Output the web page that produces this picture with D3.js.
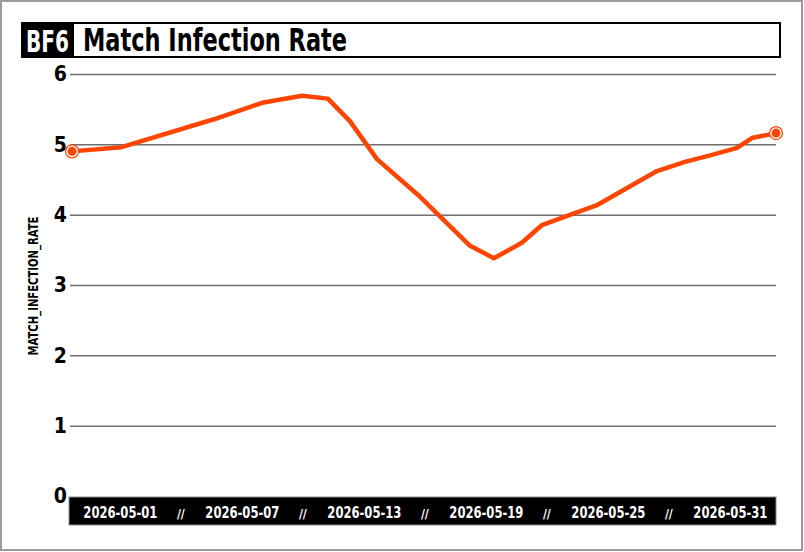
<!DOCTYPE html>
<html lang="en">
  <head>
    <meta charset="utf-8">
    <title>BF6 Match Infection Rate</title>
    <style>
     html, body { margin: 0; padding: 0; background: #fff; }
     svg { display: block; }
     text { font-family: "Liberation Sans Narrow", "DejaVu Sans Condensed", "Roboto Condensed", sans-serif; font-weight: bold; }
    </style>
  </head>
  <body>
    <div id="chart"></div>
  </body>
  <script src="https://d3js.org/d3.v7.min.js"></script>
  <script>
   // values
   var dates = ["2026-04-28T15:30", "2026-05-01T02:00", "2026-05-05T16:00", "2026-05-08T00:00",
                "2026-05-09T23:00", "2026-05-11T05:30", "2026-05-12T07:30", "2026-05-13T15:30",
                "2026-05-15T16:00", "2026-05-18T05:00", "2026-05-19T09:30", "2026-05-20T18:30",
                "2026-05-21T18:00", "2026-05-24T12:00", "2026-05-27T10:00", "2026-05-28T19:00",
                "2026-05-30T03:00", "2026-05-31T08:30", "2026-06-01T02:00", "2026-06-02T06:30"];
   var rates = [4.90, 4.96, 5.36, 5.59, 5.69, 5.65, 5.33, 4.79, 4.28, 3.56,
                3.38, 3.60, 3.85, 4.14, 4.62, 4.75, 4.85, 4.95, 5.09, 5.16];
   var tick_dates = ["2026-05-01", "2026-05-07", "2026-05-13", "2026-05-19", "2026-05-25", "2026-05-31"];
   var y_ticks = [0, 1, 2, 3, 4, 5, 6];
   var title = "Match Infection Rate",
       badge = "BF6",
       y_label = "MATCH_INFECTION_RATE",
       line_color = "#ff4500";

   var width = 804, height = 552,
       plot_left = 72, plot_right = 776, plot_top = 74, plot_bottom = 496;

   var parse = d3.isoParse,
       fmt = d3.timeFormat("%Y-%m-%d"),
       data = dates.map(function(d, i) { return {t: parse(d), v: rates[i]}; }),
       ticks = tick_dates.map(function(d) { return parse(d + "T00:00"); });

   var x = d3.scaleTime()
             .domain(d3.extent(data, function(d) { return d.t; }))
             .range([plot_left, plot_right]);
   var y = d3.scaleLinear().domain([0, 6]).range([plot_bottom, plot_top]);

   var svg = d3.select("#chart").append("svg")
               .attr("width", width)
               .attr("height", height);

   // outer frame
   svg.append("rect")
      .attr("x", 1).attr("y", 1)
      .attr("width", width - 3).attr("height", height - 3)
      .attr("fill", "#fff")
      .attr("stroke", "#9a9a9a")
      .attr("stroke-width", 2);

   // title bar
   svg.append("rect")
      .attr("x", 73).attr("y", 23)
      .attr("width", 707).attr("height", 34)
      .attr("fill", "#fff")
      .attr("stroke", "#000")
      .attr("stroke-width", 2);
   svg.append("rect")
      .attr("x", 21).attr("y", 22)
      .attr("width", 52).attr("height", 36)
      .attr("fill", "#000");
   svg.append("text")
      .attr("x", 26).attr("y", 52)
      .attr("fill", "#fff")
      .attr("font-size", 31)
      .attr("textLength", 43)
      .attr("lengthAdjust", "spacingAndGlyphs")
      .text(badge);
   svg.append("text")
      .attr("x", 83).attr("y", 51)
      .attr("fill", "#000")
      .attr("font-size", 32)
      .attr("textLength", 264)
      .attr("lengthAdjust", "spacingAndGlyphs")
      .text(title);

   // y axis with grid lines
   var gy = svg.append("g")
               .attr("transform", "translate(" + plot_left + ",0)")
               .call(d3.axisLeft(y)
                       .tickValues(y_ticks)
                       .tickSize(-(plot_right - plot_left))
                       .tickPadding(5)
                       .tickFormat(d3.format("d")));
   gy.select(".domain").remove();
   gy.selectAll(".tick line")
     .attr("x1", -2)
     .attr("stroke", "#6e6e6e")
     .attr("stroke-width", 1.5);
   gy.selectAll(".tick text")
     .attr("fill", "#000")
     .attr("font-size", 21)
     .attr("font-family", null);
   gy.selectAll(".tick").filter(function(d) { return d === 0; }).select("line").remove();

   svg.append("text")
      .attr("transform", "translate(38,286) rotate(-90)")
      .attr("text-anchor", "middle")
      .attr("font-size", 14)
      .attr("textLength", 139)
      .attr("lengthAdjust", "spacingAndGlyphs")
      .text(y_label);

   // x axis band
   svg.append("rect")
      .attr("x", 69).attr("y", 497)
      .attr("width", plot_right - 69).attr("height", 28)
      .attr("fill", "#000")
      .attr("stroke", "#8a8a8a")
      .attr("stroke-width", 1);

   var gx = svg.append("g")
               .attr("transform", "translate(0,497)")
               .call(d3.axisBottom(x)
                       .tickValues(ticks)
                       .tickSize(0)
                       .tickPadding(0)
                       .tickFormat(fmt));
   gx.select(".domain").remove();
   gx.selectAll(".tick text")
     .attr("y", 21)
     .attr("dy", null)
     .attr("fill", "#fff")
     .attr("font-size", 15)
     .attr("font-family", null)
     .attr("textLength", 74)
     .attr("lengthAdjust", "spacingAndGlyphs");

   // separators between the dates
   svg.append("g").selectAll("text")
      .data(ticks.slice(1))
      .join("text")
      .attr("x", function(d, i) { return (x(d) + x(ticks[i])) / 2; })
      .attr("y", 518)
      .attr("text-anchor", "middle")
      .attr("fill", "#fff")
      .attr("font-size", 12)
      .text("//");

   // the series
   var line = d3.line()
                .x(function(d) { return x(d.t); })
                .y(function(d) { return y(d.v); });
   svg.append("path")
      .datum(data)
      .attr("fill", "none")
      .attr("stroke", line_color)
      .attr("stroke-width", 4.5)
      .attr("stroke-linejoin", "round")
      .attr("d", line);

   var ends = [data[0], data[data.length - 1]];
   svg.append("g").selectAll("circle.ring")
      .data(ends)
      .join("circle")
      .attr("class", "ring")
      .attr("cx", function(d) { return x(d.t); })
      .attr("cy", function(d) { return y(d.v); })
      .attr("r", 6.5)
      .attr("fill", "#fff")
      .attr("stroke", line_color)
      .attr("stroke-width", 1.2);
   svg.append("g").selectAll("circle.dot")
      .data(ends)
      .join("circle")
      .attr("class", "dot")
      .attr("cx", function(d) { return x(d.t); })
      .attr("cy", function(d) { return y(d.v); })
      .attr("r", 4.5)
      .attr("fill", line_color);
  </script>
</html>
